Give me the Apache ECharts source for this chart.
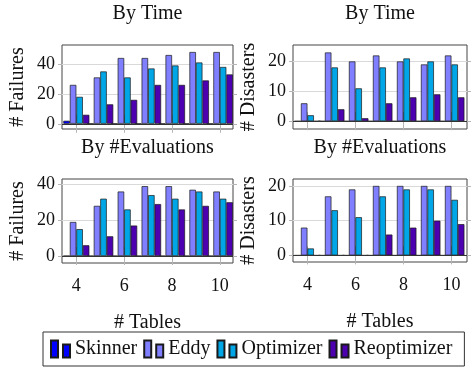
<!DOCTYPE html>
<html>
<head>
<meta charset="utf-8">
<script src="https://cdn.jsdelivr.net/npm/echarts@6/dist/echarts.min.js"></script>
<style>
  html, body { margin: 0; padding: 0; background: #fff; }
  #chart { width: 473px; height: 375px; }
</style>
</head>
<body>
<div id="chart"></div>
<script>
// categories (# tables) and labelled ticks
const tables = [4, 5, 6, 7, 8, 9, 10];
const tableTicks = [4, 6, 8, 10];
const seriesNames = ["Skinner", "Eddy", "Optimizer", "Reoptimizer"];

// By Time - # Failures
const timeFailSkinner = [2, 0, 0, 0, 0, 0, 0];
const timeFailEddy = [26, 31, 44, 44, 46, 48, 48];
const timeFailOptimizer = [18, 35, 31, 37, 39, 41, 38];
const timeFailReoptimizer = [6, 13, 16, 26, 26, 29, 33];

// By Time - # Disasters
const timeDisSkinner = [0, 0, 0, 0, 0, 0, 0];
const timeDisEddy = [6, 23, 20, 22, 20, 19, 22];
const timeDisOptimizer = [2, 18, 11, 18, 21, 20, 19];
const timeDisReoptimizer = [0, 4, 1, 6, 8, 9, 8];

// By #Evaluations - # Failures
const evalFailSkinner = [0, 0, 0, 0, 0, 0, 0];
const evalFailEddy = [19, 28, 36, 39, 39, 37, 36];
const evalFailOptimizer = [15, 32, 26, 34, 32, 36, 32];
const evalFailReoptimizer = [6, 11, 17, 29, 26, 28, 30];

// By #Evaluations - # Disasters
const evalDisSkinner = [0, 0, 0, 0, 0, 0, 0];
const evalDisEddy = [8, 17, 19, 20, 20, 20, 20];
const evalDisOptimizer = [2, 13, 11, 17, 19, 19, 16];
const evalDisReoptimizer = [0, 0, 0, 6, 8, 10, 9];

// y tick labels
const failTicks = [0, 20, 40];
const disTicks = [0, 10, 20];

const FONT = "Liberation Serif";
const colors = ["#0000ff", "#7f7fff", "#00a6e6", "#4c00b0"];

// layout of the four panels
const panels = [
  { title: "By Time", yName: "# Failures", labels: false,
    rect: { left: 62, top: 45, width: 171, height: 84 },
    x: [3.4, 10.55], y: [-3.5, 52.7], yTicks: failTicks, nameGap: 34,
    values: [timeFailSkinner, timeFailEddy, timeFailOptimizer, timeFailReoptimizer] },
  { title: "By Time", yName: "# Disasters", labels: false,
    rect: { left: 293, top: 45, width: 174, height: 84 },
    x: [3.4, 10.65], y: [-2.6, 25.5], yTicks: disTicks, nameGap: 34,
    values: [timeDisSkinner, timeDisEddy, timeDisOptimizer, timeDisReoptimizer] },
  { title: "By #Evaluations", yName: "# Failures", labels: true,
    rect: { left: 62, top: 179, width: 171, height: 84 },
    x: [3.4, 10.55], y: [-3.9, 43], yTicks: failTicks, nameGap: 34,
    values: [evalFailSkinner, evalFailEddy, evalFailOptimizer, evalFailReoptimizer] },
  { title: "By #Evaluations", yName: "# Disasters", labels: true,
    rect: { left: 293, top: 179, width: 174, height: 83 },
    x: [3.4, 10.65], y: [-1.9, 22], yTicks: disTicks, nameGap: 34,
    values: [evalDisSkinner, evalDisEddy, evalDisOptimizer, evalDisReoptimizer] }
];

const option = {
  animation: false,
  backgroundColor: "#fff",
  title: [],
  grid: [],
  xAxis: [],
  yAxis: [],
  series: [],
  legend: {
    data: seriesNames,
    left: 43,
    top: 332,
    itemWidth: 19,
    itemHeight: 17,
    itemGap: 6,
    icon: "path://M0,0h7v17h-7z M12,4h7v13h-7z",
    padding: [7, 12, 7, 7],
    borderColor: "#333",
    borderWidth: 1,
    textStyle: { fontFamily: FONT, fontSize: 20, color: "#111" }
  }
};

const tickLine = { lineStyle: { color: "#b5b5b5", width: 1 } };

panels.forEach(function (p, i) {
  const r = p.rect;
  option.grid.push(Object.assign({
    show: true, borderColor: "#444", borderWidth: 1, containLabel: false
  }, r));
  option.title.push({
    text: p.title,
    left: r.left + r.width / 2,
    textAlign: "center",
    top: i < 2 ? 4 : 138,
    padding: 0,
    textStyle: { fontFamily: FONT, fontSize: 20, fontWeight: "normal", color: "#111" }
  });

  // bottom x axis
  option.xAxis.push({
    type: "value", gridIndex: i, min: p.x[0], max: p.x[1], position: "bottom",
    axisLine: { show: false },
    axisTick: Object.assign({ show: true, inside: false, length: 9, customValues: tableTicks }, tickLine),
    axisLabel: {
      show: p.labels, customValues: tableTicks, margin: 14,
      fontFamily: FONT, fontSize: 18, color: "#111"
    },
    splitLine: { show: false },
    name: p.labels ? "# Tables" : "",
    nameLocation: "middle",
    nameGap: 50,
    nameTextStyle: { fontFamily: FONT, fontSize: 20, color: "#111" }
  });
  // top x axis (ticks only)
  option.xAxis.push({
    type: "value", gridIndex: i, min: p.x[0], max: p.x[1], position: "top",
    axisLine: { show: false },
    axisTick: Object.assign({ show: true, inside: false, length: 9, customValues: tableTicks }, tickLine),
    axisLabel: { show: false },
    splitLine: { show: false }
  });

  // left y axis
  option.yAxis.push({
    type: "value", gridIndex: i, min: p.y[0], max: p.y[1], position: "left",
    axisLine: { show: false },
    axisTick: Object.assign({ show: true, inside: false, length: 4, customValues: p.yTicks }, tickLine),
    axisLabel: {
      customValues: p.yTicks, margin: 7,
      fontFamily: FONT, fontSize: 18, color: "#111"
    },
    splitLine: { show: true, customValues: p.yTicks, lineStyle: { color: "#d9d9d9", width: 1 } },
    name: p.yName,
    nameLocation: "middle",
    nameGap: p.nameGap,
    nameTextStyle: { fontFamily: FONT, fontSize: 20, color: "#111" }
  });
  // right y axis (ticks only)
  option.yAxis.push({
    type: "value", gridIndex: i, min: p.y[0], max: p.y[1], position: "right",
    axisLine: { show: false },
    axisTick: Object.assign({ show: true, inside: false, length: 4, customValues: p.yTicks }, tickLine),
    axisLabel: { show: false },
    splitLine: { show: false }
  });

  seriesNames.forEach(function (name, s) {
    const ser = {
      name: name,
      type: "bar",
      xAxisIndex: i * 2,
      yAxisIndex: i * 2,
      barWidth: 6.5,
      barGap: "0%",
      itemStyle: { color: colors[s], borderColor: "#1a1a1a", borderWidth: 0.7 },
      data: tables.map(function (t, k) { return [t, p.values[s][k]]; })
    };
    if (s === 0) {
      // darker baseline at zero
      ser.markLine = {
        silent: true,
        symbol: "none",
        label: { show: false },
        lineStyle: { color: "#333", width: 1, type: "solid" },
        data: [{ yAxis: 0 }]
      };
    }
    option.series.push(ser);
  });
});

const chart = echarts.init(document.getElementById("chart"), null, { renderer: "canvas" });
chart.setOption(option);
</script>
</body>
</html>
